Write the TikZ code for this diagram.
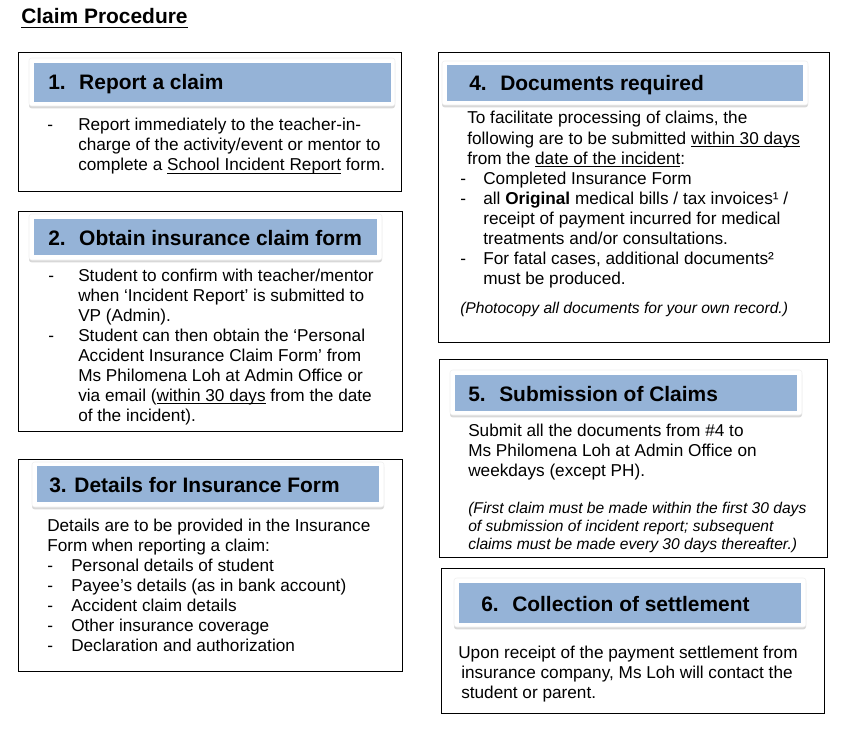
\documentclass[tikz,border=0pt]{standalone}
\usepackage{fontspec}
\setmainfont{Liberation Sans}
\usetikzlibrary{fit,shadows}
\definecolor{hdrblue}{HTML}{95B3D7}
\newcommand\undl[1]{\leavevmode\setbox0\hbox{#1}\rlap{\rule[-2pt]{\wd0}{0.6pt}}\box0\relax}

\begin{document}
\begin{tikzpicture}[x=0.75pt,y=-0.75pt,
	frame/.style={draw,line width=0.75pt,inner sep=0pt},
	hdrbox/.style={fill=white,draw=black!6,rounded corners=2pt,inner sep=0pt,
		drop shadow={shadow xshift=0pt,shadow yshift=-1.8pt,opacity=0.3}},
	band/.style={fill=hdrblue,inner sep=0pt},
	hdr/.style={font=\fontsize{15.7}{18}\selectfont\bfseries,inner sep=0pt,anchor=base west},
	body/.style={font=\fontsize{12.9}{15}\selectfont,inner sep=0pt,anchor=base west},
	note/.style={font=\fontsize{11.7}{13.5}\selectfont\itshape,inner sep=0pt,anchor=base west}]
\useasboundingbox[fill=white] (0,0) rectangle (841,731);

\node[hdr] (title) at (21,24) {\setbox0\hbox{Claim Procedure}\rlap{\rule[-3pt]{\wd0}{1pt}}\box0\relax};

% left column
\node[frame,fit={(18,53) (401,191)}] (box1) {};
\node[hdrbox,fit={(29,58) (395,106)}] (frame1) {};
\node[band,fit={(34,63) (391,102)}] (band1) {};
\node[hdr] (head1) at (48,90) {\makebox[23.25pt][l]{1.}Report a claim};
\node[body] (text1) at (47,131) {\begin{tabular}[t]{@{}p{23.25pt}@{}l@{}}
- & Report immediately to the teacher-in-\\
  & charge of the activity/event or mentor to\\
  & complete a \undl{School Incident Report} form.
\end{tabular}};

\node[frame,fit={(18,211) (402,431)}] (box2) {};
\node[hdrbox,fit={(29,214) (382,260)}] (frame2) {};
\node[band,fit={(34,219) (377,255)}] (band2) {};
\node[hdr] (head2) at (48,245) {\makebox[23.25pt][l]{2.}Obtain insurance claim form};
\node[body] (text2) at (48,281) {\begin{tabular}[t]{@{}p{22.5pt}@{}l@{}}
- & Student to confirm with teacher/mentor\\
  & when ‘Incident Report’ is submitted to\\
  & VP (Admin).\\
- & Student can then obtain the ‘Personal\\
  & Accident Insurance Claim Form’ from\\
  & Ms Philomena Loh at Admin Office or\\
  & via email (\undl{within 30 days} from the date\\
  & of the incident).
\end{tabular}};

\node[frame,fit={(18,459) (402,671)}] (box3) {};
\node[hdrbox,fit={(32,462) (384,507)}] (frame3) {};
\node[band,fit={(37,466) (379,502)}] (band3) {};
\node[hdr] (head3) at (49,492) {3. Details for Insurance Form};
\node[body] (text3) at (47,531) {\begin{tabular}[t]{@{}p{18pt}@{}l@{}}
\multicolumn{2}{@{}l@{}}{Details are to be provided in the Insurance}\\
\multicolumn{2}{@{}l@{}}{Form when reporting a claim:}\\
- & Personal details of student\\
- & Payee’s details (as in bank account)\\
- & Accident claim details\\
- & Other insurance coverage\\
- & Declaration and authorization
\end{tabular}};

% right column
\node[frame,fit={(438,53) (829,342)}] (box4) {};
\node[hdrbox,fit={(442,61) (808,105)}] (frame4) {};
\node[band,fit={(447,65) (803,101)}] (band4) {};
\node[hdr] (head4) at (469,91) {\makebox[23.25pt][l]{4.}Documents required};
\node[body] (text4) at (460,124) {\begin{tabular}[t]{@{}p{17.25pt}@{}l@{}}
\multicolumn{2}{@{}l@{}}{\hspace{5.25pt}To facilitate processing of claims, the}\\
\multicolumn{2}{@{}l@{}}{\hspace{5.25pt}following are to be submitted \undl{within 30 days}}\\
\multicolumn{2}{@{}l@{}}{\hspace{5.25pt}from the \undl{date of the incident}:}\\
- & Completed Insurance Form\\
- & all \textbf{Original} medical bills / tax invoices¹ /\\
  & receipt of payment incurred for medical\\
  & treatments and/or consultations.\\
- & For fatal cases, additional documents²\\
  & must be produced.
\end{tabular}};
\node[note] (note4) at (460,313) {(Photocopy all documents for your own record.)};

\node[frame,fit={(439,359) (827,557)}] (box5) {};
\node[hdrbox,fit={(450,370) (802,415)}] (frame5) {};
\node[band,fit={(455,375) (797,411)}] (band5) {};
\node[hdr] (head5) at (468,401) {\makebox[23.25pt][l]{5.}Submission of Claims};
\node[body] (text5) at (468,436) {\begin{tabular}[t]{@{}l@{}}
Submit all the documents from \#4 to\\
Ms Philomena Loh at Admin Office on\\
weekdays (except PH).
\end{tabular}};
\node[note] (note5) at (468,513) {\begin{tabular}[t]{@{}l@{}}
(First claim must be made within the first 30 days\\
of submission of incident report; subsequent\\
claims must be made every 30 days thereafter.)
\end{tabular}};

\node[frame,fit={(441,568) (824,713)}] (box6) {};
\node[hdrbox,fit={(454,578) (806,627)}] (frame6) {};
\node[band,fit={(459,583) (801,623)}] (band6) {};
\node[hdr] (head6) at (481,611) {\makebox[23.25pt][l]{6.}Collection of settlement};
\node[body] (text6) at (458,658) {\begin{tabular}[t]{@{}l@{}}
Upon receipt of the payment settlement from\\
\hspace{2.25pt}insurance company, Ms Loh will contact the\\
\hspace{2.25pt}student or parent.
\end{tabular}};
\end{tikzpicture}
\end{document}
